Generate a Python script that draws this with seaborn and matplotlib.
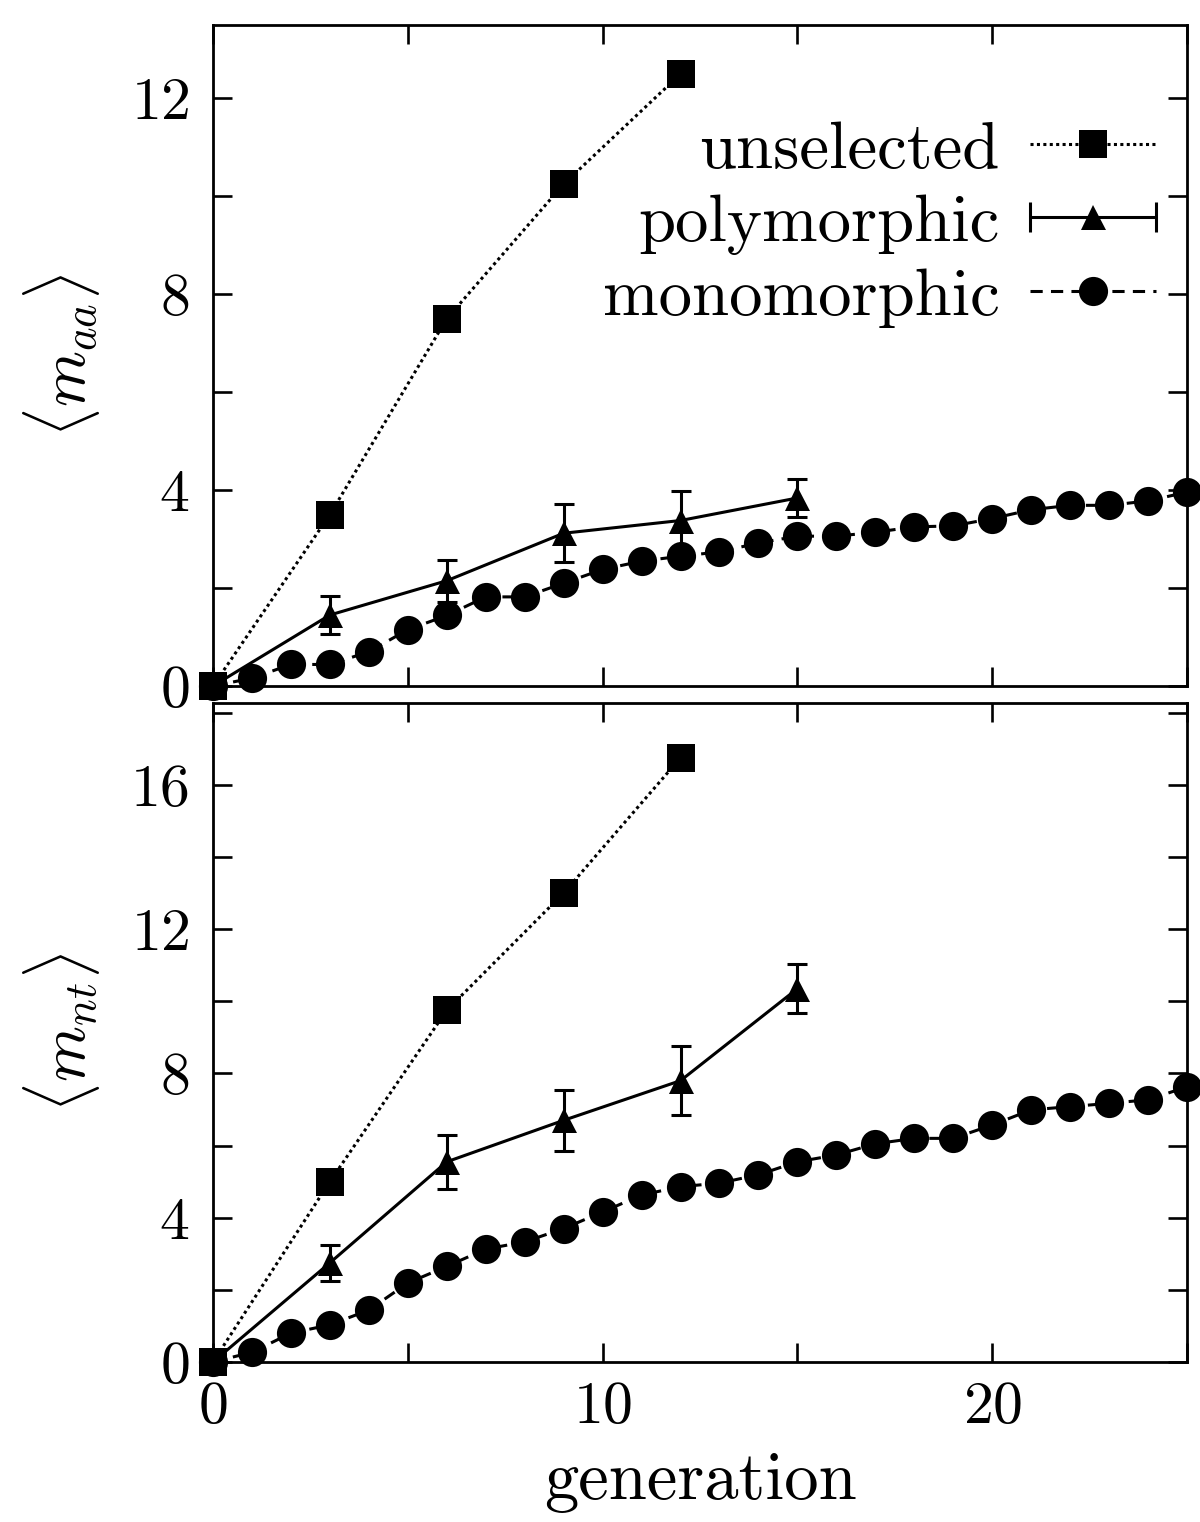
import numpy as np
import pandas as pd
import matplotlib
matplotlib.use("Agg")
import matplotlib.pyplot as plt
import seaborn as sns
from matplotlib.lines import Line2D
from matplotlib.legend_handler import HandlerLine2D, HandlerTuple
from matplotlib.ticker import MultipleLocator

sns.set_theme(style="ticks")
plt.rcParams["font.family"] = "serif"
plt.rcParams["font.serif"] = ["cmr10"]
plt.rcParams["mathtext.fontset"] = "cm"
plt.rcParams["axes.unicode_minus"] = False
plt.rcParams["axes.formatter.use_mathtext"] = True
for k in ("text.color", "axes.labelcolor", "xtick.color", "ytick.color", "axes.edgecolor"):
    plt.rcParams[k] = "black"

# unselected (every 3 generations)
unsel_gen = [0, 3, 6, 9, 12]
unsel_aa = [0, 3.5, 7.5, 10.25, 12.5]
unsel_nt = [0, 5.0, 9.75, 13.0, 16.75]

# polymorphic with error bars
poly_gen = [0, 3, 6, 9, 12, 15]
poly_aa = [0, 1.45, 2.15, 3.12, 3.38, 3.84]
poly_aa_err = [0, 0.38, 0.43, 0.59, 0.6, 0.38]
poly_nt = [0, 2.75, 5.55, 6.7, 7.8, 10.35]
poly_nt_err = [0, 0.5, 0.75, 0.85, 0.95, 0.68]

# monomorphic (every generation)
mono_gen = list(range(26))
mono_aa = [0, 0.16, 0.44, 0.44, 0.7, 1.15, 1.44, 1.82, 1.82, 2.1, 2.38, 2.55, 2.65,
           2.74, 2.92, 3.06, 3.06, 3.14, 3.25, 3.27, 3.42, 3.6, 3.69, 3.69, 3.78, 3.96]
mono_nt = [0, 0.27, 0.8, 1.03, 1.44, 2.19, 2.65, 3.13, 3.33, 3.7, 4.16, 4.63, 4.86,
           4.96, 5.19, 5.55, 5.74, 6.05, 6.2, 6.2, 6.57, 6.99, 7.08, 7.17, 7.27, 7.63]

LW = 2.2
dotted = (0, (1, 1.1))
dashed = (0, (4, 2.7))

fig = plt.figure(figsize=(12, 15.22), dpi=100)
ax1 = fig.add_axes([213/1200, 1-686/1522, 974/1200, 661/1522])
ax2 = fig.add_axes([213/1200, 1-1362/1522, 974/1200, 659/1522])

panels = [(ax1, unsel_aa, poly_aa, poly_aa_err, mono_aa, r"$\langle m_{aa}\rangle$", 13.5, 4),
          (ax2, unsel_nt, poly_nt, poly_nt_err, mono_nt, r"$\langle m_{nt}\rangle$", 18.27, 4)]

for ax, u, p, pe, m, lab, ytop, ystep in panels:
    ax.errorbar(poly_gen, p, yerr=pe, fmt="none", ecolor="black", elinewidth=LW,
                capsize=7, capthick=LW, clip_on=False, zorder=3)
    sns.lineplot(x=unsel_gen, y=u, ax=ax, color="black", lw=LW, linestyle=dotted,
                 marker="s", markersize=20, markeredgewidth=0, clip_on=False, zorder=4)
    sns.lineplot(x=poly_gen, y=p, ax=ax, color="black", lw=LW, linestyle="-",
                 marker="^", markersize=18, markeredgewidth=0, clip_on=False, zorder=4)
    sns.lineplot(x=mono_gen, y=m, ax=ax, color="black", lw=LW, linestyle=dashed,
                 marker="o", markersize=21, markeredgewidth=0, clip_on=False, zorder=4)
    ax.set_xlim(0, 25)
    ax.set_ylim(0, ytop)
    ax.xaxis.set_major_locator(MultipleLocator(10))
    ax.xaxis.set_minor_locator(MultipleLocator(5))
    ax.yaxis.set_major_locator(MultipleLocator(ystep))
    ax.yaxis.set_minor_locator(MultipleLocator(ystep / 2))
    for which in ("major", "minor"):
        ax.tick_params(axis="both", which=which, direction="in", length=14, width=1.9,
                       top=True, right=True, color="black")
    ax.tick_params(axis="both", which="major", labelsize=43, pad=17)
    for s in ax.spines.values():
        s.set_linewidth(2.0)
        s.set_color("black")
    ax.set_ylabel(lab, fontsize=46)
    ax.yaxis.set_label_coords(-0.114, 0.5)

ax1.tick_params(axis="x", labelbottom=False)
ax2.tick_params(axis="x", pad=14)
ax2.set_xlabel("generation", fontsize=49.5, labelpad=12)

# legend in gnuplot style: text left, sample right
h_un = (Line2D([], [], color="black", lw=LW, linestyle=dotted),
        Line2D([], [], color="black", lw=0, marker="s", markersize=20, markeredgewidth=0))
cap = Line2D([], [], color="black", lw=LW, marker="|", markersize=22, markeredgewidth=LW)
h_po = (cap, Line2D([], [], color="black", lw=0, marker="^", markersize=18, markeredgewidth=0))
h_mo = (Line2D([], [], color="black", lw=LW, linestyle=dashed),
        Line2D([], [], color="black", lw=0, marker="o", markersize=21, markeredgewidth=0))
leg = ax1.legend([h_un, h_po, h_mo], ["unselected", "polymorphic", "monomorphic"],
                 handler_map={tuple: HandlerTuple(ndivide=1),
                              cap: HandlerLine2D(numpoints=2, marker_pad=0)},
                 loc="upper right", bbox_to_anchor=(0.996, 0.895), frameon=False,
                 markerfirst=False, fontsize=48, handlelength=1.9, handletextpad=0.45,
                 labelspacing=0.2, borderaxespad=0, numpoints=1)
for t in leg.get_texts():
    t.set_ha("right")

fig.savefig("out.png", dpi=100)
